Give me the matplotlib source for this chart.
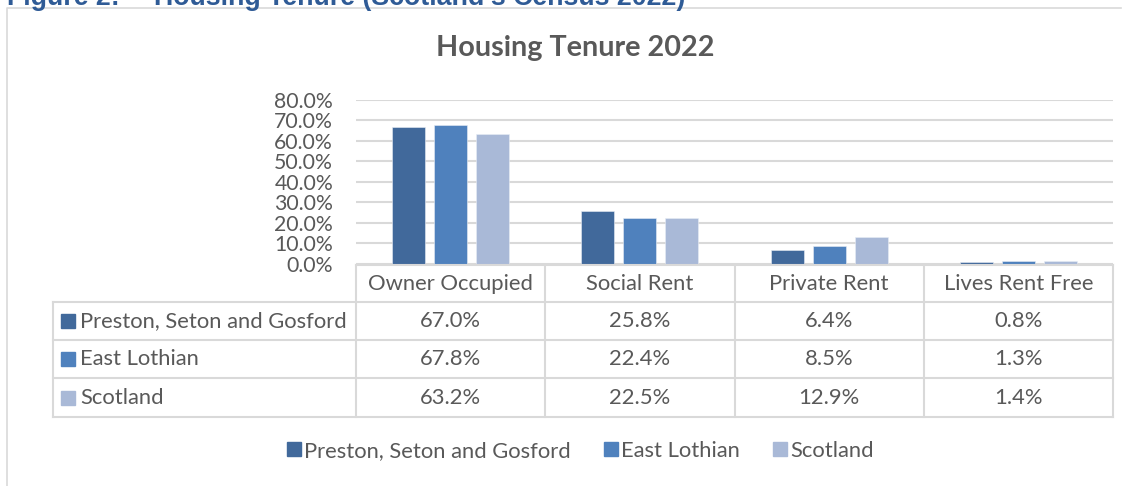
import numpy as np
import matplotlib.pyplot as plt
from matplotlib.lines import Line2D

categories = ['Owner Occupied', 'Social Rent', 'Private Rent', 'Lives Rent Free']
areas = ['Preston, Seton and Gosford', 'East Lothian', 'Scotland']
preston = [67.0, 25.8, 6.4, 0.8]
east_lothian = [67.8, 22.4, 8.5, 1.3]
scotland = [63.2, 22.5, 12.9, 1.4]
yticks = [0, 10, 20, 30, 40, 50, 60, 70, 80]

colors = ['#41699b', '#4f81bd', '#a9b9d7']
txt = '#595959'
grid = '#d9d9d9'
W, H = 1129, 486
fs = 15.8

plt.rcParams['font.family'] = ['Lato', 'DejaVu Sans']

fig = plt.figure(figsize=(W / 100, H / 100), dpi=100)

def fx(px):
    return px / W

def fy(py):
    return 1 - py / H

# caption (cut off at top) and chart border
cap_font = ['Liberation Sans', 'DejaVu Sans']
fig.text(fx(7), fy(5), 'Figure 2:', color='#2f5b96', fontsize=19.3,
         fontweight='bold', va='baseline', ha='left', family=cap_font)
fig.text(fx(685), fy(5), 'Housing Tenure (Scotland\u2019s Census 2022)',
         color='#2f5b96', fontsize=19.3, fontweight='bold', va='baseline',
         ha='right', family=cap_font)
fig.add_artist(Line2D([fx(6.5), fx(6.5), fx(1121)], [0, fy(8.5), fy(8.5)],
                      color=grid, lw=1.2, transform=fig.transFigure))

# bar chart
ax = fig.add_axes([fx(356), fy(263.5), fx(1113) - fx(356), fy(100) - fy(263.5)])
x = np.arange(len(categories))
series = [preston, east_lothian, scotland]
for i, vals in enumerate(series):
    ax.bar(x + (i - 1) * 0.222, vals, width=0.175, color=colors[i],
           edgecolor='#e8edf5', linewidth=0.4, zorder=3)
ax.set_xlim(-0.5, 3.5)
ax.set_ylim(0, 80)
ax.set_yticks(yticks)
ax.set_yticklabels(['%.1f%%' % v for v in yticks], color=txt, fontsize=15.3)
ax.set_xticks([])
ax.yaxis.grid(True, color=grid, lw=1.5, zorder=0)
ax.tick_params(axis='y', length=0, pad=16.5)
for s in ax.spines.values():
    s.set_visible(False)

fig.text(fx(575), fy(48), 'Housing Tenure 2022', color=txt, fontsize=20.7,
         fontweight='bold', ha='center', va='center')

# data table
tb = fig.add_axes([fx(52.7), fy(416.7), fx(1113) - fx(52.7), fy(265) - fy(416.7)])
tb.set_xlim(-0.5 - 303.3 / 189.25, 3.5)
tb.set_ylim(151.7, 0)
tb.axis('off')
row_edges = [0, 36.7, 75, 113.3, 151.7]
lw = 1.5
for j in range(len(categories) + 1):
    tb.plot([j - 0.5, j - 0.5], [0, row_edges[-1]], color=grid, lw=lw, clip_on=False)
tb.plot([-0.5, 3.5], [0, 0], color=grid, lw=lw, clip_on=False)
left = tb.get_xlim()[0]
tb.plot([left, left], [row_edges[1], row_edges[-1]], color=grid, lw=lw, clip_on=False)
for e in row_edges[1:]:
    tb.plot([left, 3.5], [e, e], color=grid, lw=lw, clip_on=False)

for j, c in enumerate(categories):
    tb.text(j, (row_edges[0] + row_edges[1]) / 2 + 1, c, ha='center', va='center',
            color=txt, fontsize=fs)
for i, (name, vals) in enumerate(zip(areas, series)):
    ymid = (row_edges[i + 1] + row_edges[i + 2]) / 2
    tb.plot([left + 0.08], [ymid], marker='s', ms=10, color=colors[i], lw=0)
    tb.text(left + 0.145, ymid, name, ha='left', va='center', color=txt, fontsize=fs)
    for j, v in enumerate(vals):
        tb.text(j, ymid, '%.1f%%' % v, ha='center', va='center', color=txt, fontsize=fs)

# legend
handles = [Line2D([], [], marker='s', ms=9.5, lw=0, color=c) for c in colors]
fig.legend(handles, areas, loc='center', bbox_to_anchor=(fx(580.5), fy(451)),
           ncol=3, frameon=False, fontsize=fs, labelcolor=txt,
           handlelength=0.6, handletextpad=0.15, columnspacing=1.55)

fig.savefig('out.png', dpi=100)
